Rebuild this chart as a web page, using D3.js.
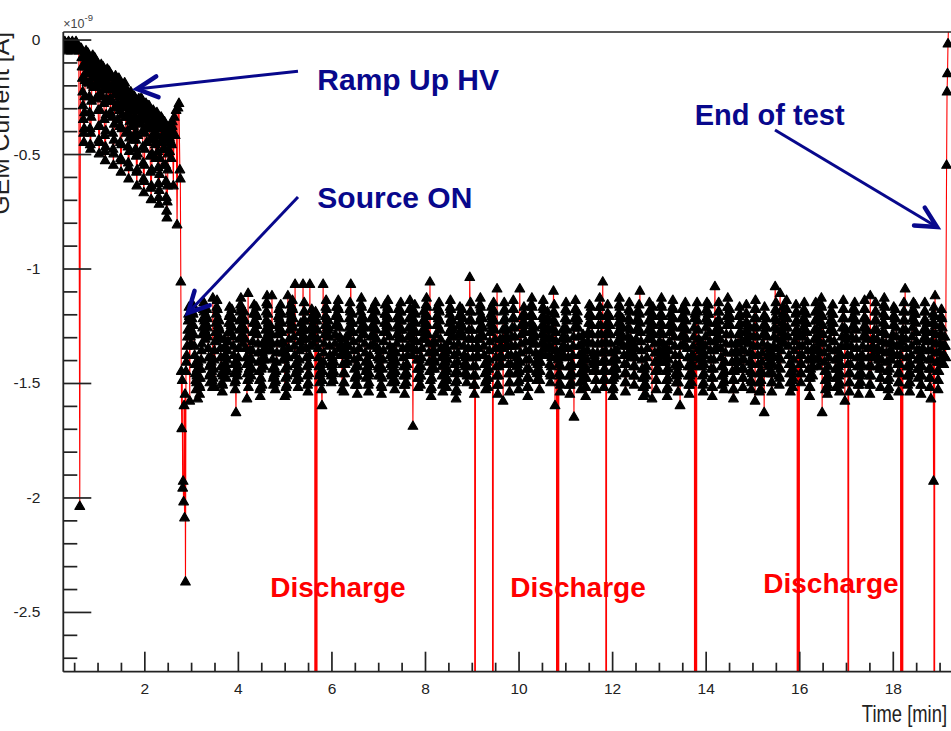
<!DOCTYPE html>
<html><head><meta charset="utf-8">
<script src="https://cdn.jsdelivr.net/npm/d3@7"></script>
<style>
html,body{margin:0;padding:0;background:#fff;overflow:hidden}
svg{display:block}
</style></head><body>
<svg id="chart" width="951" height="731"></svg>
<script>
// ---------------- DATA (current in units of 1e-9 A, time in minutes) ----------------
// idle before HV ramp, with one spike
const startIdle = [[0.28,-0.03],[0.30,-0.01],[0.32,-0.04],[0.34,-0.02],[0.36,-0.05],[0.38,-0.01],[0.40,-0.03],[0.42,-0.02],[0.44,-0.05],[0.46,-0.01],[0.48,-0.04],[0.50,-0.02],[0.52,-0.03],[0.54,-0.01],[0.56,-0.04],[0.58,-0.03],[0.60,-0.05],[0.62,-2.04],[0.635,-0.04]];
// HV ramp, one sample every rampStep minutes from rampStart
const rampStart = 0.65, rampStep = 0.0065;
const ramp = [
-0.04,-0.05,-0.08,-0.12,-0.17,-0.23,-0.29,-0.35,-0.41,-0.45,-0.39,-0.32,-0.25,-0.18,-0.12,-0.07,-0.05,-0.09,-0.14,-0.19,-0.15,-0.10,-0.06,-0.07,-0.10,
-0.14,-0.19,-0.25,-0.32,-0.39,-0.46,-0.48,-0.41,-0.34,-0.27,-0.20,-0.14,-0.09,-0.07,-0.11,-0.16,-0.21,-0.17,-0.12,-0.08,-0.10,-0.15,-0.20,-0.26,-0.21,
-0.15,-0.11,-0.10,-0.14,-0.19,-0.25,-0.31,-0.38,-0.44,-0.50,-0.45,-0.38,-0.31,-0.24,-0.17,-0.12,-0.11,-0.15,-0.20,-0.25,-0.19,-0.14,-0.12,-0.16,-0.22,
-0.28,-0.35,-0.42,-0.49,-0.53,-0.47,-0.40,-0.33,-0.26,-0.19,-0.14,-0.13,-0.17,-0.22,-0.27,-0.22,-0.17,-0.14,-0.16,-0.21,-0.26,-0.32,-0.27,-0.21,-0.16,
-0.16,-0.21,-0.27,-0.34,-0.41,-0.48,-0.55,-0.50,-0.44,-0.37,-0.30,-0.24,-0.19,-0.16,-0.19,-0.24,-0.20,-0.17,-0.22,-0.28,-0.35,-0.29,-0.23,-0.18,-0.17,
-0.20,-0.25,-0.31,-0.38,-0.45,-0.52,-0.58,-0.53,-0.46,-0.39,-0.33,-0.27,-0.22,-0.20,-0.24,-0.30,-0.25,-0.21,-0.19,-0.23,-0.28,-0.34,-0.41,-0.34,-0.27,
-0.22,-0.27,-0.33,-0.40,-0.47,-0.54,-0.61,-0.56,-0.49,-0.43,-0.36,-0.30,-0.25,-0.23,-0.28,-0.34,-0.29,-0.24,-0.26,-0.31,-0.37,-0.44,-0.38,-0.31,-0.25,
-0.25,-0.29,-0.34,-0.41,-0.48,-0.44,-0.51,-0.58,-0.64,-0.57,-0.50,-0.42,-0.35,-0.29,-0.26,-0.30,-0.36,-0.31,-0.27,-0.26,-0.31,-0.37,-0.33,-0.28,-0.26,
-0.29,-0.34,-0.40,-0.47,-0.54,-0.61,-0.67,-0.62,-0.55,-0.48,-0.41,-0.35,-0.30,-0.28,-0.33,-0.39,-0.45,-0.39,-0.33,-0.29,-0.31,-0.36,-0.32,-0.29,-0.33,
-0.38,-0.44,-0.51,-0.58,-0.65,-0.70,-0.64,-0.57,-0.50,-0.43,-0.37,-0.32,-0.31,-0.35,-0.41,-0.36,-0.32,-0.34,-0.39,-0.46,-0.52,-0.45,-0.38,-0.33,-0.32,
-0.36,-0.42,-0.49,-0.56,-0.63,-0.69,-0.72,-0.66,-0.59,-0.52,-0.45,-0.39,-0.35,-0.34,-0.38,-0.44,-0.39,-0.35,-0.37,-0.42,-0.48,-0.55,-0.48,-0.41,-0.36,
-0.37,-0.42,-0.48,-0.55,-0.62,-0.69,-0.75,-0.78,-0.71,-0.64,-0.57,-0.50,-0.44,-0.39,-0.38,-0.43,-0.49,-0.44,-0.40,-0.39,-0.45,-0.52,-0.46,-0.41,-0.38];
// end of ramp / source switched on
const sourceOn = [[2.60,-0.36],[2.62,-0.64],[2.64,-0.34],[2.66,-0.42],[2.68,-0.31],[2.70,-0.81],[2.72,-0.30],[2.74,-0.28],[2.76,-0.57],[2.77,-0.61],[2.78,-1.06],[2.79,-1.45],[2.80,-1.70],[2.81,-1.49],[2.82,-1.96],[2.83,-1.93],[2.84,-2.02],[2.85,-1.60],[2.86,-2.09],[2.87,-1.55],[2.88,-2.37]];
// irradiation plateau, one sample every plateauStep minutes from plateauStart (-15 = discharge, off scale)
const plateauStart = 2.89, plateauStep = 0.0081;
const plateau = [
-1.45,-1.41,-1.38,-1.34,-1.30,-1.27,-1.23,-1.20,-1.17,-1.21,-1.58,-1.26,-1.30,-1.33,-1.29,-1.25,-1.22,-1.19,-1.16,-1.20,-1.25,-1.29,-1.34,-1.38,-1.42,
-1.46,-1.49,-1.53,-1.50,-1.47,-1.44,-1.57,-1.41,-1.44,-1.48,-1.51,-1.55,-1.52,-1.48,-1.44,-1.40,-1.36,-1.33,-1.29,-1.26,-1.22,-1.18,-1.15,-1.19,-1.23,
-1.27,-1.31,-1.28,-1.24,-1.21,-1.18,-1.22,-1.26,-1.30,-1.35,-1.39,-1.43,-1.47,-1.50,-1.46,-1.42,-1.39,-1.41,-1.45,-1.49,-1.52,-1.13,-1.48,-1.44,-1.40,
-1.36,-1.52,-1.32,-1.28,-1.24,-1.20,-1.17,-1.14,-1.18,-1.22,-1.25,-1.29,-1.26,-1.23,-1.27,-1.31,-1.35,-1.39,-1.43,-1.46,-1.50,-1.54,-1.51,-1.47,-1.43,
-1.39,-1.35,-1.31,-1.34,-1.38,-1.42,-1.45,-1.48,-1.44,-1.40,-1.36,-1.32,-1.28,-1.24,-1.21,-1.17,-1.20,-1.24,-1.28,-1.25,-1.21,-1.18,-1.22,-1.26,-1.30,
-1.34,-1.38,-1.42,-1.46,-1.50,-1.53,-1.49,-1.63,-1.45,-1.41,-1.44,-1.47,-1.43,-1.39,-1.35,-1.31,-1.27,-1.23,-1.19,-1.16,-1.13,-1.17,-1.21,-1.25,-1.29,
-1.33,-1.30,-1.26,-1.22,-1.19,-1.23,-1.27,-1.31,-1.35,-1.39,-1.42,-1.57,-1.46,-1.49,-1.11,-1.52,-1.48,-1.44,-1.40,-1.36,-1.39,-1.43,-1.47,-1.44,-1.40,
-1.36,-1.32,-1.28,-1.24,-1.20,-1.16,-1.19,-1.23,-1.27,-1.24,-1.20,-1.17,-1.21,-1.25,-1.29,-1.33,-1.37,-1.41,-1.45,-1.49,-1.53,-1.56,-1.52,-1.48,-1.44,
-1.40,-1.51,-1.37,-1.33,-1.36,-1.40,-1.43,-1.39,-1.35,-1.31,-1.27,-1.23,-1.19,-1.15,-1.12,-1.16,-1.20,-1.24,-1.28,-1.32,-1.36,-1.33,-1.29,-1.25,-1.28,
-1.32,-1.36,-1.12,-1.40,-1.44,-1.48,-1.51,-1.47,-1.43,-1.46,-1.50,-1.53,-1.49,-1.45,-1.41,-1.37,-1.33,-1.29,-1.25,-1.21,-1.18,-1.22,-1.26,-1.23,-1.19,
-1.16,-1.20,-1.24,-1.28,-1.32,-1.36,-1.40,-1.37,-1.33,-1.36,-1.40,-1.56,-1.44,-1.48,-1.52,-1.55,-1.51,-1.47,-1.43,-1.12,-1.39,-1.35,-1.31,-1.27,-1.23,
-1.19,-1.16,-1.20,-1.24,-1.21,-1.17,-1.14,-1.18,-1.22,-1.26,-1.30,-1.34,-1.38,-1.07,-1.42,-1.46,-1.49,-1.45,-1.41,-1.44,-1.48,-1.52,-1.48,-1.44,-1.40,
-1.36,-1.32,-1.28,-1.24,-1.27,-1.31,-1.35,-1.31,-1.27,-1.07,-1.23,-1.19,-1.15,-1.19,-1.23,-1.27,-1.31,-1.35,-1.39,-1.43,-1.47,-1.51,-1.54,-1.50,-1.46,
-1.42,-1.38,-1.07,-1.34,-1.30,-1.26,-1.22,-1.18,-1.21,-1.25,-1.29,-1.33,-1.30,-1.26,-1.23,-1.20,-15,-1.19,-15,-1.20,-15,-1.23,-1.27,-1.31,-1.35,
-1.39,-1.43,-1.47,-1.50,-1.46,-1.42,-1.45,-1.49,-1.53,-1.60,-1.49,-1.45,-1.07,-1.41,-1.37,-1.33,-1.29,-1.25,-1.21,-1.17,-1.14,-1.18,-1.22,-1.26,-1.30,
-1.27,-1.23,-1.26,-1.30,-1.34,-1.38,-1.42,-1.46,-1.50,-1.47,-1.43,-1.39,-1.42,-1.46,-1.49,-1.45,-1.41,-1.37,-1.33,-1.29,-1.25,-1.21,-1.17,-1.20,-1.24,
-1.21,-1.17,-1.14,-1.18,-1.22,-1.26,-1.30,-1.34,-1.38,-1.35,-1.31,-1.34,-1.53,-1.38,-1.42,-1.46,-1.50,-1.54,-1.50,-1.46,-1.42,-1.38,-1.34,-1.30,-1.33,
-1.37,-1.41,-1.38,-1.34,-1.30,-1.26,-1.22,-1.18,-1.15,-1.19,-1.07,-1.23,-1.27,-1.24,-1.20,-1.24,-1.28,-1.32,-1.36,-1.40,-1.44,-1.48,-1.51,-1.47,-1.43,
-1.47,-1.51,-1.55,-1.51,-1.47,-1.43,-1.39,-1.35,-1.31,-1.27,-1.23,-1.19,-1.16,-1.13,-1.17,-1.21,-1.25,-1.29,-1.26,-1.22,-1.25,-1.29,-1.33,-1.37,-1.41,
-1.45,-1.48,-1.44,-1.40,-1.43,-1.47,-1.51,-1.54,-1.50,-1.46,-1.42,-1.38,-1.34,-1.30,-1.26,-1.22,-1.18,-1.21,-1.25,-1.29,-1.33,-1.30,-1.26,-1.22,-1.18,
-1.15,-1.19,-1.23,-1.27,-1.31,-1.35,-1.39,-1.43,-1.47,-1.44,-1.40,-1.36,-1.39,-1.43,-1.47,-1.51,-1.55,-1.52,-1.48,-1.44,-1.40,-1.36,-1.32,-1.28,-1.24,
-1.20,-1.16,-1.20,-1.24,-1.28,-1.25,-1.21,-1.17,-1.14,-1.18,-1.22,-1.26,-1.30,-1.34,-1.38,-1.42,-1.46,-1.50,-1.47,-1.43,-1.39,-1.35,-1.38,-1.42,-1.46,
-1.50,-1.53,-1.49,-1.45,-1.41,-1.37,-1.33,-1.29,-1.25,-1.21,-1.18,-1.22,-1.26,-1.30,-1.27,-1.23,-1.19,-1.15,-1.19,-1.23,-1.27,-1.31,-1.35,-1.39,-1.43,
-1.47,-1.51,-1.55,-1.51,-1.47,-1.43,-1.46,-1.50,-1.46,-1.42,-1.38,-1.34,-1.30,-1.26,-1.22,-1.18,-1.14,-1.18,-1.22,-1.26,-1.30,-1.34,-1.38,-1.35,-1.69,
-1.31,-1.27,-1.23,-1.19,-1.16,-1.20,-1.24,-1.28,-1.32,-1.36,-1.40,-1.44,-1.48,-1.52,-1.48,-1.44,-1.40,-1.43,-1.47,-1.51,-1.47,-1.43,-1.39,-1.35,-1.31,
-1.27,-1.23,-1.19,-1.23,-1.27,-1.31,-1.28,-1.24,-1.20,-1.16,-1.13,-1.17,-1.21,-1.25,-1.29,-1.33,-1.37,-1.41,-1.45,-1.06,-1.49,-1.53,-1.56,-1.52,-1.48,
-1.44,-1.40,-1.36,-1.32,-1.36,-1.40,-1.44,-1.41,-1.37,-1.33,-1.29,-1.25,-1.21,-1.17,-1.21,-1.25,-1.22,-1.18,-1.15,-1.19,-1.23,-1.27,-1.31,-1.35,-1.39,
-1.43,-1.47,-1.51,-1.54,-1.50,-1.46,-1.42,-1.38,-1.34,-1.37,-1.41,-1.45,-1.49,-1.52,-1.48,-1.44,-1.40,-1.36,-1.32,-1.28,-1.24,-1.20,-1.17,-1.14,-1.18,
-1.22,-1.26,-1.30,-1.27,-1.23,-1.26,-1.30,-1.34,-1.38,-1.42,-1.46,-1.50,-1.54,-1.57,-1.53,-1.49,-1.45,-1.41,-1.37,-1.33,-1.29,-1.25,-1.21,-1.17,-1.20,
-1.24,-1.28,-1.25,-1.21,-1.18,-1.22,-1.26,-1.30,-1.34,-1.38,-1.42,-1.46,-1.43,-1.39,-1.42,-1.46,-1.50,-1.47,-1.43,-1.39,-1.35,-1.31,-1.27,-1.23,-1.04,
-1.19,-1.15,-1.19,-1.23,-1.27,-1.31,-1.35,-1.39,-1.43,-1.47,-1.51,-1.55,-1.51,-15,-1.47,-1.43,-1.39,-1.35,-1.31,-1.34,-1.38,-1.35,-1.31,-1.27,-1.23,
-1.19,-1.16,-1.13,-1.17,-1.21,-1.25,-1.29,-1.26,-1.22,-1.26,-1.30,-1.34,-1.38,-1.42,-1.46,-1.50,-1.53,-1.49,-1.45,-1.41,-1.44,-1.48,-1.52,-1.48,-1.44,
-1.40,-1.36,-1.32,-1.28,-1.24,-1.20,-1.17,-1.21,-1.25,-1.22,-15,-1.18,-1.15,-1.19,-1.23,-1.27,-1.31,-1.35,-1.39,-1.43,-1.47,-1.09,-1.51,-1.55,-1.51,
-1.47,-1.43,-1.39,-1.35,-1.31,-1.34,-1.38,-1.42,-1.39,-1.35,-1.31,-1.27,-1.58,-1.23,-1.19,-1.15,-1.18,-1.22,-1.26,-1.30,-1.34,-1.31,-1.27,-1.30,-1.34,
-1.38,-1.42,-1.46,-1.50,-1.54,-1.50,-1.46,-1.42,-1.38,-1.34,-1.30,-1.26,-1.22,-1.18,-1.14,-1.18,-1.22,-1.26,-1.30,-1.34,-1.38,-1.42,-1.46,-1.43,-1.39,
-1.42,-1.46,-1.50,-1.53,-1.49,-1.45,-1.09,-1.41,-1.37,-1.33,-1.29,-1.25,-1.21,-1.24,-1.28,-1.25,-1.21,-1.17,-1.20,-1.24,-1.28,-1.32,-1.36,-1.40,-1.44,
-1.48,-1.52,-1.56,-1.52,-1.48,-1.44,-1.40,-1.36,-1.32,-1.28,-1.24,-1.20,-1.16,-1.13,-1.17,-1.21,-1.25,-1.29,-1.33,-1.30,-1.26,-1.29,-1.33,-1.37,-1.41,
-1.45,-1.49,-1.46,-1.42,-1.38,-1.41,-1.45,-1.49,-1.53,-1.49,-1.45,-1.41,-1.37,-1.33,-1.29,-1.25,-1.21,-1.17,-1.14,-1.18,-1.22,-1.26,-1.30,-1.34,-1.38,
-1.35,-1.31,-1.27,-1.23,-1.19,-1.22,-1.26,-1.30,-1.34,-1.38,-1.42,-1.46,-1.50,-1.47,-1.43,-1.39,-1.35,-1.31,-1.27,-1.23,-1.10,-1.19,-1.16,-1.20,-1.60,
-1.24,-1.28,-1.32,-1.36,-15,-1.38,-15,-1.40,-15,-1.42,-1.46,-1.50,-1.54,-1.51,-1.47,-1.43,-1.39,-1.35,-1.31,-1.27,-1.30,-1.34,-1.38,-1.34,-1.30,
-1.26,-1.22,-1.18,-1.15,-1.19,-1.23,-1.27,-1.31,-1.35,-1.39,-1.43,-1.47,-1.51,-1.55,-1.51,-1.47,-1.43,-1.46,-1.50,-1.46,-1.42,-1.38,-1.34,-1.30,-1.65,
-1.26,-1.22,-1.18,-1.14,-1.18,-1.22,-1.26,-1.23,-1.19,-1.22,-1.26,-1.30,-1.34,-1.38,-1.42,-1.46,-1.50,-1.53,-1.49,-1.45,-1.41,-1.37,-1.33,-1.29,-1.32,
-1.36,-1.40,-1.44,-1.48,-1.52,-1.56,-1.52,-1.48,-1.44,-1.40,-1.36,-1.32,-1.28,-1.24,-1.20,-1.16,-1.20,-1.24,-1.21,-1.17,-1.21,-1.25,-1.29,-1.33,-1.37,
-1.41,-1.45,-1.42,-1.38,-1.41,-1.45,-1.49,-1.53,-1.49,-1.45,-1.41,-1.37,-1.33,-1.29,-1.25,-1.21,-1.17,-1.13,-1.17,-1.21,-1.25,-1.29,-1.33,-1.37,-1.41,
-1.06,-1.45,-1.49,-1.52,-1.48,-1.44,-1.40,-1.36,-1.32,-15,-1.28,-1.24,-1.20,-1.16,-1.20,-1.24,-1.28,-1.25,-1.21,-1.25,-1.29,-1.33,-1.37,-1.41,-1.45,
-1.49,-1.53,-1.56,-1.52,-1.48,-1.44,-1.40,-1.36,-1.39,-1.43,-1.47,-1.44,-1.40,-1.36,-1.32,-1.28,-1.24,-1.20,-1.16,-1.13,-1.17,-1.21,-1.25,-1.29,-1.33,
-1.30,-1.26,-1.22,-1.26,-1.30,-1.34,-1.38,-1.42,-1.46,-1.50,-1.54,-1.50,-1.46,-1.42,-1.38,-1.34,-1.30,-1.26,-1.22,-1.18,-1.15,-1.19,-1.23,-1.27,-1.31,
-1.35,-1.39,-1.36,-1.32,-1.35,-1.39,-1.43,-1.47,-1.51,-1.47,-1.43,-1.39,-1.35,-1.31,-1.27,-1.23,-1.19,-1.22,-1.26,-1.23,-1.19,-1.16,-1.20,-1.10,-1.24,
-1.28,-1.32,-1.36,-1.40,-1.44,-1.48,-1.52,-1.56,-1.52,-1.48,-1.44,-1.47,-1.51,-1.55,-1.51,-1.47,-1.43,-1.39,-1.35,-1.31,-1.27,-1.23,-1.19,-1.15,-1.19,
-1.23,-1.27,-1.31,-1.28,-1.24,-1.57,-1.20,-1.17,-1.21,-1.25,-1.29,-1.33,-1.37,-1.41,-1.45,-1.49,-1.53,-1.49,-1.45,-1.41,-1.37,-1.40,-1.44,-1.40,-1.36,
-1.32,-1.28,-1.24,-1.20,-1.16,-1.13,-1.17,-1.21,-1.25,-1.29,-1.33,-1.37,-1.41,-1.38,-1.34,-1.37,-1.41,-1.45,-1.49,-1.53,-1.56,-1.52,-1.48,-1.44,-1.40,
-1.36,-1.32,-1.28,-1.24,-1.20,-1.24,-1.28,-1.25,-1.21,-1.17,-1.14,-1.18,-1.22,-1.26,-1.30,-1.34,-1.38,-1.42,-1.46,-1.50,-1.47,-1.43,-1.46,-1.50,-1.54,
-1.50,-1.46,-1.42,-1.38,-1.60,-1.34,-1.30,-1.26,-1.22,-1.18,-1.21,-1.25,-1.29,-1.33,-1.30,-1.26,-1.22,-1.18,-1.15,-1.19,-1.23,-1.27,-1.31,-1.35,-1.39,
-1.43,-1.47,-1.51,-1.55,-1.51,-1.47,-1.43,-1.39,-1.42,-1.46,-1.50,-1.46,-1.42,-1.38,-1.34,-1.30,-1.26,-1.22,-15,-1.20,-15,-1.19,-15,-1.18,-1.15,
-1.19,-1.23,-1.27,-1.31,-1.35,-1.39,-1.43,-1.40,-1.36,-1.32,-1.35,-1.39,-1.43,-1.47,-1.51,-1.54,-1.50,-1.46,-1.42,-1.38,-1.34,-1.30,-1.26,-1.22,-1.18,
-1.15,-1.19,-1.23,-1.20,-1.16,-1.20,-1.24,-1.28,-1.32,-1.36,-1.40,-1.44,-1.48,-1.52,-1.56,-1.52,-1.48,-1.44,-1.40,-1.36,-1.32,-1.08,-1.28,-1.24,-1.27,
-1.31,-1.35,-1.31,-1.27,-1.23,-1.19,-1.15,-1.19,-1.23,-1.27,-1.31,-1.35,-1.39,-1.43,-1.47,-1.51,-1.47,-1.43,-1.46,-1.50,-1.53,-1.49,-1.45,-1.41,-1.37,
-1.33,-1.29,-1.25,-1.21,-1.17,-1.13,-1.17,-1.21,-1.25,-1.22,-1.18,-1.21,-1.25,-1.29,-1.33,-1.37,-1.41,-1.45,-1.49,-1.53,-1.57,-1.53,-1.49,-1.45,-1.41,
-1.37,-1.33,-1.36,-1.40,-1.44,-1.41,-1.37,-1.33,-1.29,-1.25,-1.21,-1.17,-1.20,-1.24,-1.28,-1.32,-1.36,-1.40,-1.44,-1.48,-1.52,-1.48,-1.44,-1.40,-1.36,
-1.32,-1.28,-1.24,-1.20,-1.16,-1.20,-1.24,-1.28,-1.32,-1.29,-1.25,-1.29,-1.33,-1.37,-1.41,-1.45,-1.49,-1.53,-1.50,-1.46,-1.42,-1.38,-1.34,-1.30,-1.26,
-1.22,-1.18,-1.58,-1.14,-1.18,-1.22,-1.26,-1.30,-1.34,-1.38,-1.42,-1.46,-1.50,-1.54,-1.50,-1.46,-1.49,-1.53,-1.49,-1.45,-1.41,-1.37,-1.33,-1.29,-1.25,
-1.21,-1.63,-1.17,-1.21,-1.25,-1.29,-1.26,-1.22,-1.26,-1.30,-1.34,-1.38,-1.42,-1.46,-1.43,-1.39,-1.35,-1.38,-1.42,-1.46,-1.50,-1.54,-1.50,-1.46,-1.42,
-1.38,-1.34,-1.30,-1.26,-1.22,-1.08,-1.18,-1.15,-1.19,-1.23,-1.27,-1.31,-1.35,-1.39,-1.43,-1.47,-1.51,-1.48,-1.11,-1.44,-1.40,-1.36,-1.32,-1.28,-1.24,
-1.20,-1.17,-1.21,-1.25,-1.29,-1.33,-1.30,-1.26,-1.22,-1.18,-1.14,-1.18,-1.22,-1.26,-1.30,-1.34,-1.38,-1.42,-1.46,-1.50,-1.54,-1.50,-1.46,-1.42,-1.45,
-1.49,-1.52,-1.48,-1.44,-1.40,-1.36,-1.32,-1.28,-1.24,-1.20,-1.16,-1.19,-1.23,-1.27,-15,-1.29,-15,-1.30,-15,-1.34,-1.38,-1.42,-1.46,-1.50,-1.46,
-1.42,-1.38,-1.34,-1.30,-1.26,-1.22,-1.18,-1.15,-1.19,-1.23,-1.27,-1.24,-1.20,-1.24,-1.28,-1.32,-1.36,-1.40,-1.44,-1.48,-1.52,-1.56,-1.52,-1.48,-1.44,
-1.40,-1.36,-1.39,-1.43,-1.47,-1.43,-1.39,-1.35,-1.31,-1.27,-1.23,-1.19,-1.15,-1.19,-1.23,-1.27,-1.31,-1.35,-1.39,-1.43,-1.40,-1.36,-1.32,-1.28,-1.24,
-1.20,-1.16,-1.13,-1.17,-1.63,-1.21,-1.25,-1.29,-1.33,-1.37,-1.41,-1.45,-1.49,-1.53,-1.49,-1.45,-1.48,-1.52,-1.55,-1.51,-1.47,-1.43,-1.39,-1.35,-1.31,
-1.27,-1.23,-1.19,-1.23,-1.27,-1.24,-1.20,-1.16,-1.20,-1.24,-1.28,-1.32,-1.36,-1.40,-1.44,-1.48,-1.52,-1.48,-1.44,-1.40,-1.36,-1.39,-1.43,-1.47,-1.51,
-1.54,-1.50,-1.46,-1.42,-1.38,-1.34,-1.30,-1.26,-1.22,-1.18,-1.14,-1.18,-1.22,-1.26,-1.58,-1.30,-1.34,-1.31,-1.27,-1.30,-1.34,-1.38,-1.42,-15,-1.46,
-1.50,-1.54,-1.50,-1.46,-1.42,-1.38,-1.34,-1.30,-1.26,-1.22,-1.18,-1.21,-1.25,-1.22,-1.18,-1.15,-1.19,-1.23,-1.27,-1.31,-1.35,-1.39,-1.43,-1.47,-1.51,
-1.55,-1.51,-1.47,-1.43,-1.39,-1.42,-1.46,-1.50,-1.46,-1.42,-1.38,-1.34,-1.30,-1.26,-1.22,-1.18,-1.14,-1.18,-1.22,-1.26,-1.30,-1.27,-1.23,-1.27,-1.31,
-1.35,-1.39,-1.43,-1.47,-1.51,-1.55,-1.12,-1.51,-1.47,-1.43,-1.39,-1.35,-1.31,-1.34,-1.38,-1.35,-1.31,-1.27,-1.23,-1.19,-1.15,-1.19,-1.23,-1.27,-1.31,
-1.35,-1.39,-1.43,-1.40,-1.36,-1.40,-1.44,-1.48,-1.52,-1.48,-1.44,-1.40,-1.36,-1.32,-1.28,-1.24,-1.20,-1.16,-1.13,-1.17,-1.21,-1.25,-1.29,-1.33,-1.37,
-1.41,-1.45,-1.49,-1.53,-1.56,-1.52,-1.48,-1.44,-1.40,-1.36,-1.32,-1.36,-1.40,-1.37,-1.33,-1.29,-1.25,-1.21,-1.17,-1.21,-1.25,-1.22,-1.18,-1.22,-1.26,
-1.30,-1.34,-1.38,-1.42,-1.46,-1.50,-1.54,-1.50,-1.46,-1.42,-1.38,-1.34,-15,-1.32,-15,-1.30,-15,-1.27,-1.23,-1.19,-1.15,-1.19,-1.23,-1.09,-1.27,
-1.31,-1.35,-1.39,-1.43,-1.47,-1.51,-1.47,-1.43,-1.46,-1.50,-1.54,-1.50,-1.46,-1.42,-1.38,-1.34,-1.30,-1.26,-1.22,-1.18,-1.15,-1.19,-1.23,-1.20,-1.16,
-1.20,-1.24,-1.28,-1.32,-1.36,-1.40,-1.44,-1.48,-1.44,-1.40,-1.36,-1.39,-1.43,-1.47,-1.51,-1.55,-1.51,-1.47,-1.43,-1.39,-1.35,-1.31,-1.27,-1.23,-1.19,
-1.15,-1.19,-1.23,-1.27,-1.31,-1.28,-1.24,-1.28,-1.32,-1.36,-1.40,-1.44,-1.48,-1.52,-1.48,-1.44,-1.57,-1.40,-1.36,-1.32,-1.28,-1.24,-1.20,-1.93,-1.17,
-15,-1.21,-1.12,-1.25,-1.29,-1.33,-1.37,-1.41,-1.45,-1.49,-1.53,-1.49,-1.45,-1.41,-1.37,-1.33,-1.29,-1.25,-1.21,-1.18,-1.22,-1.26,-1.30,-1.34,-1.38,
-1.42,-1.38,-1.34,-1.30,-1.34,-1.39];
// end of test: current returns to zero
const endOfTest = [[19.15,-0.55],[19.16,-0.23],[19.17,-0.15],[19.18,-0.02],[19.20,0.12]];

// axis ticks
const xMajorTicks = [2,4,6,8,10,12,14,16,18];
const yMajorTicks = [0,-0.5,-1,-1.5,-2,-2.5];
const yLabels = ["0","-0.5","-1","-1.5","-2","-2.5"];

// annotations (in data coordinates)
const arrows = [
  {from:[5.285,-0.138], to:[1.843,-0.216]},
  {from:[5.285,-0.688], to:[2.934,-1.194]},
  {from:[15.482,-0.395], to:[18.945,-0.819]}
];
const blueLabels = [
  {text:"Ramp Up HV", at:[5.698,-0.2205], size:30},
  {text:"Source ON", at:[5.698,-0.736], size:30},
  {text:"End of test", at:[13.766,-0.373], size:29}
];
const dischargeLabels = [[4.693,-2.4345],[9.824,-2.4345],[15.232,-2.417]];

// ---------------- DRAWING ----------------
const FONT = '"Liberation Sans", Arial, Helvetica, sans-serif';
const svg = d3.select("#chart");
const x = d3.scaleLinear().domain([0.268, 19.3]).range([63.3, 953.6]);
const y = d3.scaleLinear().domain([-2.761, 0.033]).range([671.7, 32]);
const [xL, xR] = x.range();
const [yB, yT] = y.range();

const series = [
  ...startIdle,
  ...ramp.map((v,i)=>[rampStart + i*rampStep, v]),
  ...sourceOn,
  ...plateau.map((v,i)=>[plateauStart + i*plateauStep, v]),
  ...endOfTest
].map(([t,v])=>({t,v}));

svg.append("clipPath").attr("id","plotclip").append("rect")
  .attr("x", xL).attr("y", yT).attr("width", xR - xL).attr("height", yB - yT);

const plot = svg.append("g").attr("clip-path","url(#plotclip)");
plot.append("path").datum(series)
  .attr("fill","none").attr("stroke","#ff0000").attr("stroke-width",1.1)
  .attr("d", d3.line().x(d=>x(d.t)).y(d=>y(d.v)));
const tri = d3.symbol().type(d3.symbolTriangle).size(40)();
plot.append("g").selectAll("path").data(series.filter(d=>d.v > -3 && d.v < 0.1)).join("path")
  .attr("d", tri).attr("fill","#000").attr("stroke","#000").attr("stroke-width",1.2)
  .attr("stroke-linejoin","round")
  .attr("transform", d=>`translate(${x(d.t)},${y(d.v)})`);

// frame
const axisColor = "#222";
svg.append("line").attr("x1",xL).attr("x2",xR).attr("y1",yT).attr("y2",yT).attr("stroke",axisColor).attr("stroke-width",1.6);
svg.append("line").attr("x1",xL).attr("x2",xL).attr("y1",yT).attr("y2",yB).attr("stroke",axisColor).attr("stroke-width",1.8);
svg.append("line").attr("x1",xL).attr("x2",xR).attr("y1",yB).attr("y2",yB).attr("stroke",axisColor).attr("stroke-width",1.8);

// x axis
const xMinor = d3.range(1, 39).map(k=>k/2).filter(v=>v % 2 !== 0);
const gxm = svg.append("g").attr("transform",`translate(0,${yB})`)
  .call(d3.axisBottom(x).tickValues(xMinor).tickSize(-9).tickFormat(""));
const gx = svg.append("g").attr("transform",`translate(0,${yB})`)
  .call(d3.axisBottom(x).tickValues(xMajorTicks).tickSize(-20).tickPadding(11).tickFormat(d3.format("d")));
// y axis
const yMinor = d3.range(-27, 1).map(k=>k/10).filter(v=>Math.abs(v*2 - Math.round(v*2)) > 1e-6);
const gym = svg.append("g").attr("transform",`translate(${xL},0)`)
  .call(d3.axisLeft(y).tickValues(yMinor).tickSize(-14).tickFormat(""));
const gy = svg.append("g").attr("transform",`translate(${xL},0)`)
  .call(d3.axisLeft(y).tickValues(yMajorTicks).tickSize(-28).tickPadding(23)
    .tickFormat((d,i)=>yLabels[i]));
[gxm,gx,gym,gy].forEach(g=>{
  g.select(".domain").remove();
  g.attr("color",axisColor).attr("font-family",FONT).attr("font-size",15.5);
  g.selectAll("line").attr("stroke-width",1.7);
});

// axis titles
svg.append("text").attr("transform","translate(947,721.5) scale(0.8,1)").attr("text-anchor","end")
  .attr("font-family",FONT).attr("font-size",23).attr("fill","#222").text("Time [min]");
svg.append("text").attr("transform","translate(8.5,32) rotate(-90)").attr("text-anchor","end")
  .attr("font-family",FONT).attr("font-size",24.7).attr("fill","#222").text("GEM Current [A]");
const expo = svg.append("text").attr("x", xL).attr("y", 27.5)
  .attr("font-family",FONT).attr("font-size",12.5).attr("fill","#444");
expo.append("tspan").text("\u00d710");
expo.append("tspan").attr("font-size",9.5).attr("dy",-7).text("-9");

// annotations
const blue = "#08088c";
arrows.forEach(a=>{
  const x0 = x(a.from[0]), y0 = y(a.from[1]), x1 = x(a.to[0]), y1 = y(a.to[1]);
  const ang = Math.atan2(y1-y0, x1-x0), L = 23, h = 27*Math.PI/180;
  svg.append("line").attr("x1",x0).attr("y1",y0).attr("x2",x1).attr("y2",y1)
    .attr("stroke",blue).attr("stroke-width",3);
  const p = d3.path();
  p.moveTo(x1 - L*Math.cos(ang-h), y1 - L*Math.sin(ang-h));
  p.lineTo(x1, y1);
  p.lineTo(x1 - L*Math.cos(ang+h), y1 - L*Math.sin(ang+h));
  svg.append("path").attr("d", p.toString()).attr("fill","none").attr("stroke",blue)
    .attr("stroke-width",4.5).attr("stroke-linecap","round").attr("stroke-linejoin","miter");
});
blueLabels.forEach(b=>{
  svg.append("text").attr("x", x(b.at[0])).attr("y", y(b.at[1]))
    .attr("font-family",FONT).attr("font-weight","bold").attr("font-size",b.size)
    .attr("fill",blue).text(b.text);
});
dischargeLabels.forEach(p=>{
  svg.append("text").attr("x", x(p[0])).attr("y", y(p[1]))
    .attr("font-family",FONT).attr("font-weight","bold").attr("font-size",28)
    .attr("fill","#ff0000").text("Discharge");
});
</script>
</body></html>
